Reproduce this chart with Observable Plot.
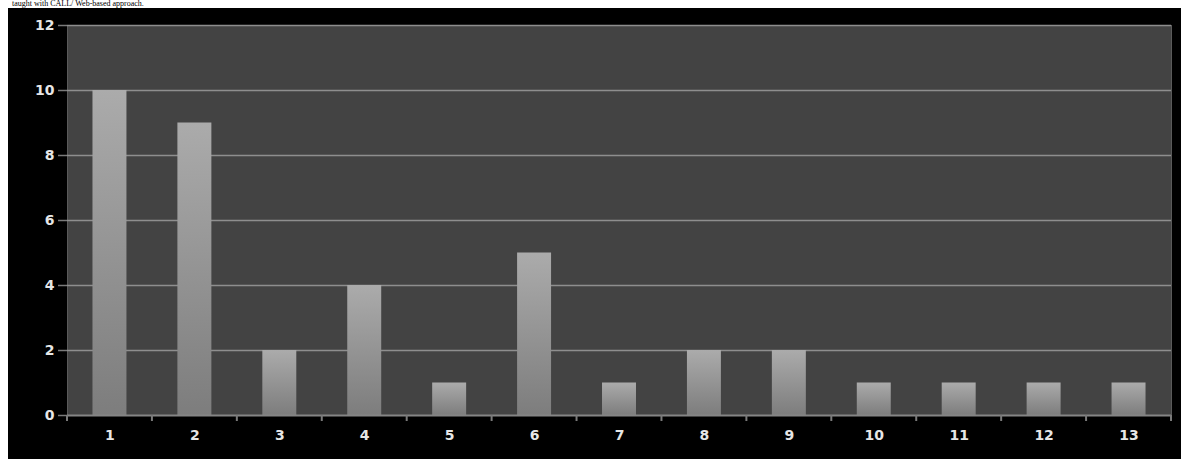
<!DOCTYPE html>
<html>
<head>
<meta charset="utf-8">
<script src="https://cdn.jsdelivr.net/npm/d3@7"></script>
<script src="https://cdn.jsdelivr.net/npm/@observablehq/plot@0.6"></script>
<style>
  html, body { margin: 0; padding: 0; background: #ffffff; }
  #caption { position: relative; height: 8px; overflow: hidden; }
  #caption span { position: absolute; left: 12px; top: 0px; font-family: "Liberation Serif", "DejaVu Serif", serif; font-size: 8px; line-height: 8px; color: #000; white-space: nowrap; }
  #chart { margin-left: 8px; width: 1173px; height: 451px; background: #000000; }
  #chart svg { display: block; }
</style>
</head>
<body>
<div id="caption"><span>taught with CALL/ Web-based approach.</span></div>
<div id="chart"></div>
<script>
const categories = ["1","2","3","4","5","6","7","8","9","10","11","12","13"];
const counts = [10, 9, 2, 4, 1, 5, 1, 2, 2, 1, 1, 1, 1];
const yTicks = [0, 2, 4, 6, 8, 10, 12];

const data = categories.map((c, i) => ({cat: c, value: counts[i]}));

const defs = () => {
  const d = d3.create("svg:defs");
  const g = d.append("linearGradient").attr("id", "barGrad")
    .attr("x1", 0).attr("y1", 0).attr("x2", 0).attr("y2", 1);
  g.append("stop").attr("offset", "0%").attr("stop-color", "#ababab");
  g.append("stop").attr("offset", "100%").attr("stop-color", "#7d7d7d");
  return d.node();
};

// x-axis tick marks at band boundaries
const bandTicks = (index, scales) => {
  const g = d3.create("svg:g");
  const x = scales.x, bw = x.bandwidth ? x.bandwidth() : 0;
  const step = x.step ? x.step() : bw;
  const pad = (step - bw) / 2;
  const y0 = scales.y(0);
  const edges = categories.map(c => x(c) - pad);
  edges.push(x(categories[categories.length - 1]) + bw + pad);
  edges.forEach(e => {
    g.append("line").attr("x1", e).attr("x2", e)
      .attr("y1", y0).attr("y2", y0 + 6)
      .attr("stroke", "#7a7a7a").attr("stroke-width", 2);
  });
  return g.node();
};

const chart = Plot.plot({
  width: 1173,
  height: 451,
  marginLeft: 59,
  marginTop: 17,
  marginRight: 10,
  marginBottom: 44,
  style: { background: "#000000", color: "#e6e6e6", fontFamily: "DejaVu Sans, sans-serif" },
  x: { type: "band", domain: categories, paddingInner: 0.6, paddingOuter: 0.3, align: 0.5, round: false, label: null },
  y: { domain: [0, 12], label: null },
  marks: [
    defs,
    Plot.frame({ fill: "#434343", stroke: "#5a5a5a", strokeWidth: 1 }),
    Plot.ruleY(yTicks.filter(t => t > 0), { stroke: "#8e8e8e", strokeWidth: 1.5 }),
    Plot.barY(data, { x: "cat", y: "value", fill: "url(#barGrad)" }),
    Plot.ruleX([0], { frameAnchor: "left", stroke: "#7a7a7a", strokeWidth: 2 }),
    Plot.ruleY([0], { stroke: "#858585", strokeWidth: 2 }),
    Plot.axisY({ ticks: yTicks, tickSize: 9, tickPadding: 4, stroke: "#7a7a7a", strokeWidth: 1.5, fontSize: 14, fontWeight: "bold", fill: "#e6e6e6", label: null }),
    Plot.axisX({ tickSize: 0, tickPadding: 15, fontSize: 14, fontWeight: "bold", fill: "#e6e6e6", label: null }),
    bandTicks
  ]
});

document.getElementById("chart").appendChild(chart);
</script>
</body>
</html>
